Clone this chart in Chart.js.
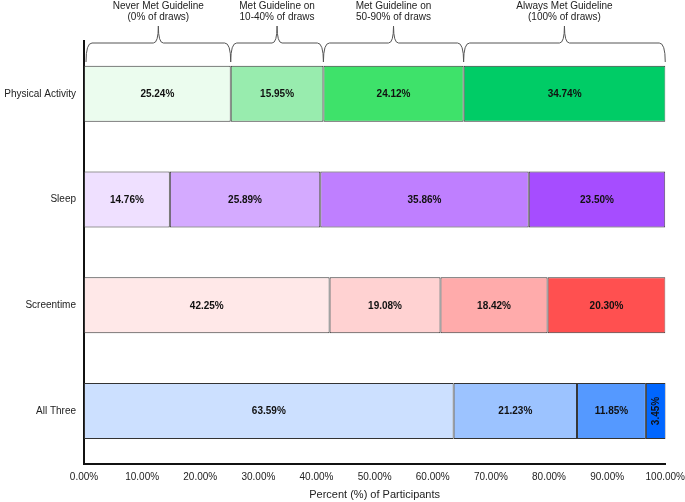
<!DOCTYPE html>
<html>
<head>
<meta charset="utf-8">
<script src="https://cdn.jsdelivr.net/npm/chart.js@4"></script>
<style>
html,body{margin:0;padding:0;background:#fff;}
#wrap{width:685px;height:502px;position:relative;}
</style>
</head>
<body>
<div id="wrap"><canvas id="c"></canvas></div>
<script>
const categories = ['Physical Activity', 'Sleep', 'Screentime', 'All Three'];
const neverMet = [25.24, 14.76, 42.25, 63.59];
const met10to40 = [15.95, 25.89, 19.08, 21.23];
const met50to90 = [24.12, 35.86, 18.42, 11.85];
const alwaysMet = [34.74, 23.50, 20.30, 3.45];
const groupLabels = [
  ['Never Met Guideline', '(0% of draws)'],
  ['Met Guideline on', '10-40% of draws'],
  ['Met Guideline on', '50-90% of draws'],
  ['Always Met Guideline', '(100% of draws)']
];
const xTicks = [0, 10, 20, 30, 40, 50, 60, 70, 80, 90, 100];
const xTitle = 'Percent (%) of Participants';

const palette = [
  ['#ebfcee', '#efe0ff', '#ffe8e8', '#cce0ff'],
  ['#98ecae', '#d4aaff', '#ffd2d2', '#9cc3ff'],
  ['#3ee26a', '#bf7fff', '#ffabab', '#5599ff'],
  ['#00cc66', '#a64dff', '#ff5050', '#0066ff']
];
const series = [neverMet, met10to40, met50to90, alwaysMet];
const FONT = '"Liberation Sans", Arial, sans-serif';

const labelPlugin = {
  id: 'segLabels',
  afterDatasetsDraw(chart) {
    const ctx = chart.ctx;
    ctx.save();
    ctx.font = 'bold 10px ' + FONT;
    ctx.fillStyle = '#111';
    ctx.textAlign = 'center';
    ctx.textBaseline = 'middle';
    chart.data.datasets.forEach((ds, di) => {
      const meta = chart.getDatasetMeta(di);
      meta.data.forEach((bar, i) => {
        const w = Math.abs(bar.x - bar.base);
        const cx = (bar.x + bar.base) / 2;
        const txt = ds.data[i].toFixed(2) + '%';
        if (w < 30) {
          ctx.save();
          ctx.translate(cx, bar.y);
          ctx.rotate(-Math.PI / 2);
          ctx.fillText(txt, 0, 0);
          ctx.restore();
        } else {
          ctx.fillText(txt, cx, bar.y + 0.5);
        }
      });
    });
    ctx.restore();
  }
};

const bracePlugin = {
  id: 'braces',
  afterDraw(chart) {
    const ctx = chart.ctx;
    const xs = chart.scales.x;
    const yBot = chart.chartArea.top + 21;
    const yMid = chart.chartArea.top + 2;
    const yTip = chart.chartArea.top - 15;
    let cum = 0;
    ctx.save();
    ctx.strokeStyle = '#555';
    ctx.lineWidth = 1;
    series.forEach((arr, k) => {
      const v = arr[0];
      const x0 = xs.getPixelForValue(cum) + (k === 0 ? 2 : 0);
      cum += v;
      const x1 = Math.min(xs.getPixelForValue(cum), chart.chartArea.right);
      const m = (x0 + x1) / 2;
      ctx.beginPath();
      ctx.moveTo(x0, yBot);
      ctx.quadraticCurveTo(x0, yMid, x0 + 6, yMid);
      ctx.lineTo(m - 5, yMid);
      ctx.quadraticCurveTo(m, yMid, m, yTip);
      ctx.quadraticCurveTo(m, yMid, m + 5, yMid);
      ctx.lineTo(x1 - 6, yMid);
      ctx.quadraticCurveTo(x1, yMid, x1, yBot);
      ctx.stroke();
      ctx.fillStyle = '#222';
      ctx.font = '10px ' + FONT;
      ctx.textAlign = 'center';
      ctx.textBaseline = 'middle';
      ctx.fillText(groupLabels[k][0], m, 6);
      ctx.fillText(groupLabels[k][1], m, 17);
    });
    ctx.restore();
  }
};

new Chart(document.getElementById('c'), {
  type: 'bar',
  data: {
    labels: categories,
    datasets: series.map((arr, k) => ({
      label: groupLabels[k].join(' '),
      data: arr,
      backgroundColor: palette[k],
      borderColor: '#333',
      borderWidth: 1,
      borderSkipped: false,
      categoryPercentage: 1,
      barPercentage: 0.53
    }))
  },
  options: {
    indexAxis: 'y',
    responsive: true,
    maintainAspectRatio: false,
    animation: false,
    layout: { padding: { top: 41, right: 0, left: 0, bottom: 0 } },
    plugins: { legend: { display: false }, tooltip: { enabled: false } },
    scales: {
      x: {
        stacked: true,
        min: 0, max: 100,
        afterBuildTicks(axis) { axis.ticks = xTicks.map(v => ({ value: v })); },
        ticks: {
          callback: v => Number(v).toFixed(2) + '%',
          color: '#222',
          font: { family: FONT, size: 10 },
          maxRotation: 0, padding: 0
        },
        grid: { display: false, drawTicks: true, tickLength: 7, tickColor: 'rgba(0,0,0,0)' },
        border: { display: true, color: '#111', width: 2 },
        title: { display: true, text: xTitle, color: '#222', font: { family: FONT, size: 11 }, padding: { top: 6, bottom: 0 } }
      },
      y: {
        stacked: true,
        afterFit(scale) { scale.width = 84; },
        ticks: { color: '#222', font: { family: FONT, size: 10 }, padding: 8 },
        grid: { display: false, drawTicks: false },
        border: { display: true, color: '#111', width: 2 }
      }
    }
  },
  plugins: [labelPlugin, bracePlugin]
});
</script>
</body>
</html>
